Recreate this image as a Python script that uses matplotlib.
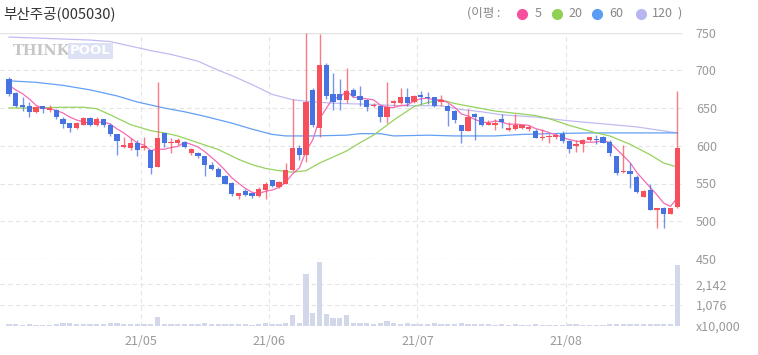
import matplotlib
matplotlib.use("Agg")
import matplotlib.pyplot as plt
import numpy as np
import pandas as pd
from matplotlib.lines import Line2D

plt.rcParams["font.family"] = ["Noto Sans CJK KR", "DejaVu Sans"]

# daily candles, 100 trading days (index 0 = first candle)
opens = [688, 670, 654, 652, 645, 652, 648, 648, 635, 630,
         623, 628, 637, 627, 636, 627, 616, 598, 597, 604,
         597, 594, 572, 617, 603, 604, 605, 590, 590, 587,
         575, 569, 560, 551, 533, 540, 537, 533, 542, 554,
         545, 550, 568, 597, 588, 674, 624, 707, 669, 668,
         660, 674, 666, 661, 652, 652, 638, 657, 656, 665,
         658, 667, 664, 664, 658, 652, 646, 627, 619, 642,
         638, 628, 628, 636, 621, 622, 624, 622, 620, 610,
         611, 611, 616, 606, 600, 602, 608, 609, 612, 605,
         587, 565, 567, 559, 532, 541, 515, 517, 510, 519]
highs = [691, 671, 664, 658, 652, 653, 654, 649, 638, 630,
         631, 638, 638, 638, 636, 630, 616, 612, 610, 608,
         612, 594, 684, 617, 610, 610, 606, 597, 592, 587,
         579, 572, 561, 552, 538, 543, 537, 545, 552, 555,
         553, 577, 662, 601, 750, 676, 748, 710, 696, 689,
         703, 676, 679, 662, 657, 654, 685, 660, 676, 676,
         667, 673, 671, 665, 667, 655, 648, 628, 649, 643,
         640, 634, 636, 642, 631, 642, 628, 627, 622, 622,
         616, 616, 619, 608, 608, 609, 612, 614, 613, 608,
         587, 601, 577, 561, 541, 549, 517, 519, 518, 672]
lows = [666, 651, 646, 638, 644, 644, 645, 636, 623, 618,
        622, 628, 626, 626, 625, 613, 588, 597, 595, 586,
        595, 563, 572, 598, 590, 601, 597, 588, 584, 560,
        568, 558, 549, 534, 529, 534, 531, 532, 529, 545,
        544, 549, 567, 581, 578, 625, 612, 662, 648, 648,
        657, 664, 652, 646, 651, 631, 630, 652, 655, 652,
        657, 655, 655, 651, 653, 626, 630, 604, 619, 608,
        626, 627, 621, 624, 620, 621, 622, 620, 610, 608,
        603, 609, 604, 590, 592, 592, 606, 602, 603, 586,
        561, 564, 544, 537, 532, 515, 491, 491, 510, 518]
closes = [669, 652, 651, 645, 651, 649, 650, 638, 629, 624,
          630, 637, 628, 636, 627, 615, 606, 601, 603, 594,
          600, 570, 610, 603, 605, 607, 598, 596, 586, 574,
          569, 559, 550, 536, 538, 535, 533, 543, 549, 547,
          552, 568, 597, 588, 658, 628, 707, 666, 658, 660,
          672, 666, 661, 651, 654, 638, 651, 659, 664, 657,
          666, 665, 663, 652, 660, 646, 634, 619, 638, 638,
          628, 630, 630, 631, 624, 628, 627, 625, 610, 612,
          613, 614, 606, 596, 602, 608, 611, 608, 604, 591,
          564, 567, 563, 539, 540, 515, 517, 509, 517, 597]
# closes of the 4 days before the window (for the 5-day average)
prior_closes = [682, 676, 680, 693]

# volume, in units of 10,000 shares
volumes = [60, 55, 50, 55, 50, 45, 50, 60, 140, 130,
           70, 60, 55, 60, 70, 130, 130, 60, 55, 60,
           70, 90, 430, 90, 70, 60, 55, 60, 80, 130,
           70, 60, 60, 70, 60, 55, 50, 55, 110, 60,
           70, 150, 540, 150, 2690, 660, 3330, 610, 370, 370,
           540, 130, 110, 110, 100, 110, 260, 130, 90, 140,
           80, 70, 80, 140, 70, 80, 90, 140, 80, 90,
           60, 55, 50, 60, 50, 55, 50, 45, 60, 50,
           50, 45, 50, 60, 55, 50, 45, 50, 50, 60,
           70, 60, 60, 70, 60, 70, 80, 70, 60, 3160]

# longer moving averages at these candle indices
ma20_idx = [0, 4, 8, 11, 13, 15, 18, 21, 23, 25, 28, 31, 34, 36, 38, 40, 42, 44, 46, 48,
            50, 52, 54, 57, 60, 62, 64, 66, 69, 72, 75, 78, 80, 83, 87, 89, 92, 95, 97, 99]
ma20_val = [650, 650, 651, 651, 649, 641, 628, 620, 617, 613, 604, 595, 582, 575, 570, 567, 565, 567, 577, 585,
            593, 604, 614, 634, 652, 657, 661, 656, 651, 646, 643, 640, 636, 627, 617, 613, 602, 588, 577, 572]
ma60_idx = [0, 4, 8, 12, 16, 19, 23, 26, 29, 33, 36, 39, 41, 45, 50, 52, 55, 57, 62, 66,
            72, 76, 80, 86, 92, 99]
ma60_val = [686, 684, 680, 674, 666, 658, 650, 645, 639, 630, 622, 615, 613, 613, 614, 616, 616, 613, 614, 613,
            613, 615, 616, 617, 617, 617]
ma120_idx = [0, 6, 12, 15, 18, 21, 24, 28, 31, 33, 36, 39, 42, 45, 49, 53, 58, 64, 67, 70,
             73, 78, 83, 88, 93, 99]
ma120_val = [744, 742, 740, 738, 732, 726, 721, 712, 700, 693, 681, 668, 661, 658, 656, 655, 653, 653, 648, 645,
             641, 638, 633, 629, 625, 617]

month_pos = [19.5, 38.5, 60.5, 82.5]
month_labels = ["21/05", "21/06", "21/07", "21/08"]
price_ticks = [450, 500, 550, 600, 650, 700, 750]
vol_ticks = [0, 1076, 2142]
vol_tick_labels = ["x10,000", "1,076", "2,142"]

UP = "#f7505c"
DOWN = "#4673e1"
GRID = "#e4e4e4"
TXT = "#999999"

W, H = 758, 355
fig = plt.figure(figsize=(W / 100, H / 100), dpi=100)


def px_rect(x0, y0, x1, y1):
    return [x0 / W, 1 - y1 / H, (x1 - x0) / W, (y1 - y0) / H]


ax = fig.add_axes(px_rect(0, 32.5, 682, 259))
axv = fig.add_axes(px_rect(0, 259.5, 682, 325.5))

x = np.arange(len(closes))
xlim = (-9 / 6.75, (682 - 9) / 6.75)

# price panel
ma5 = pd.Series(prior_closes + closes).rolling(5).mean().to_numpy()[len(prior_closes):]
ax.plot(ma120_idx, ma120_val, color="#c0bcf2", lw=0.9, zorder=2)
ax.plot(ma60_idx, ma60_val, color="#62a0f4", lw=0.9, zorder=2)
ax.plot(ma20_idx, ma20_val, color="#95d35c", lw=0.9, zorder=2)
ax.plot(x, ma5, color="#f56bb4", lw=0.9, zorder=2)

for i in range(len(closes)):
    o, h, l, c = opens[i], highs[i], lows[i], closes[i]
    col = UP if c >= o else DOWN
    ax.vlines(i, l, h, color=col, lw=1.0, alpha=0.75, zorder=3)
    lo, hi = min(o, c), max(o, c)
    ax.bar(i, max(hi - lo, 1.4), bottom=lo, width=0.78, color=col, lw=0, zorder=4)

ax.set_xlim(*xlim)
ax.set_ylim(450, 750)
for p in price_ticks[1:-1]:
    ax.axhline(p, color=GRID, lw=0.8, dashes=(4, 3), zorder=1)
ax.axhline(750, color="#e2e2e2", lw=1.0, zorder=1)
ax.axhline(450, color="#aaaaaa", lw=0.8, dashes=(3, 2), zorder=1)
for m in month_pos:
    ax.axvline(m, color=GRID, lw=0.8, dashes=(4, 3), zorder=1)

ax.yaxis.tick_right()
ax.set_yticks(price_ticks)
ax.set_yticklabels([str(p) for p in price_ticks])
ax.tick_params(axis="y", length=0, pad=10, labelsize=9, labelcolor=TXT)
ax.set_xticks([])
for s in ax.spines.values():
    s.set_visible(False)

# watermark
wy = 1 - 51 / H
fig.text(13 / W, wy, "THINK", fontsize=10.5, fontweight="bold", color="#c6c6c6",
         va="center", ha="left", family="DejaVu Serif")
fig.text(70 / W, wy, "POOL", fontsize=9.5, fontweight="bold", color="white",
         va="center", ha="left", family="DejaVu Sans",
         bbox=dict(boxstyle="square,pad=0.15", fc="#dce1f4", ec="none"))

# volume panel
axv.bar(x, volumes, width=0.78, color="#d2d7e9", lw=0, zorder=3)
axv.set_xlim(*xlim)
axv.set_ylim(0, 3445)
for v in vol_ticks[1:]:
    axv.axhline(v, color=GRID, lw=0.8, dashes=(4, 3), zorder=1)
axv.axhline(0, color="#d6d6d6", lw=0.8, dashes=(4, 3), zorder=1)
for m in month_pos:
    axv.axvline(m, color=GRID, lw=0.8, dashes=(4, 3), zorder=1)
axv.yaxis.tick_right()
axv.set_yticks(vol_ticks)
axv.set_yticklabels(vol_tick_labels)
axv.tick_params(axis="y", length=0, pad=10, labelsize=9, labelcolor=TXT)
axv.set_xticks(month_pos)
axv.set_xticklabels(month_labels)
axv.tick_params(axis="x", length=0, pad=7, labelsize=9, labelcolor=TXT)
for s in axv.spines.values():
    s.set_visible(False)

# title and legend
fig.text(3 / W, 1 - 14 / H, "부산주공(005030)", fontsize=10.5, color="#333333", va="center", ha="left")
ly = 1 - 13.5 / H
fig.text(467 / W, ly, "(이평 :", fontsize=9, color="#888888", va="center", ha="left")
legend_items = [("5", "#f7509f", 521.7, 535), ("20", "#8fd055", 556.7, 568),
                ("60", "#5c9cf3", 597.3, 609), ("120", "#b8b6f0", 640.7, 652)]
for lab, col, dx, tx in legend_items:
    fig.add_artist(Line2D([dx / W], [ly], marker="o", ms=7, color=col, mec=col,
                          transform=fig.transFigure))
    fig.text(tx / W, ly, lab, fontsize=9, color="#888888", va="center", ha="left")
fig.text(677 / W, ly, ")", fontsize=9, color="#888888", va="center", ha="left")

fig.savefig("out.png", dpi=100)
